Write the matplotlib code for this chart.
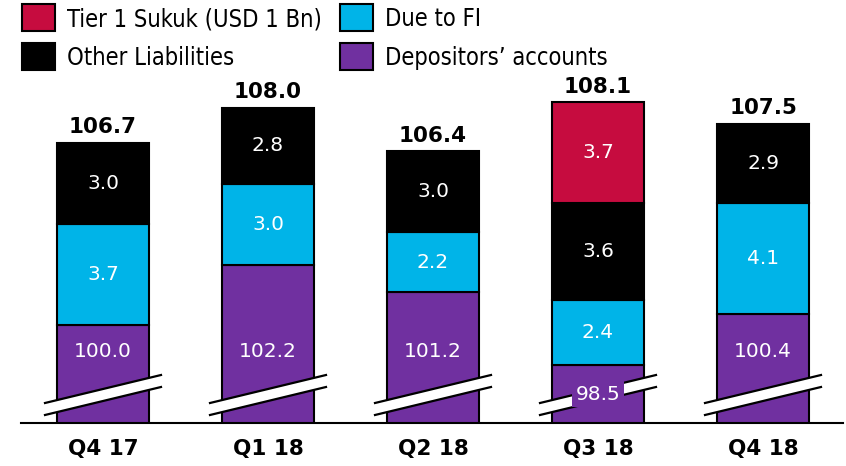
import matplotlib
matplotlib.use('Agg')
import matplotlib.pyplot as plt
from matplotlib.patches import Polygon, Rectangle
from matplotlib.lines import Line2D

# ---------------- data ----------------
categories = ['Q4 17', 'Q1 18', 'Q2 18', 'Q3 18', 'Q4 18']
depositors = [100.0, 102.2, 101.2, 98.5, 100.4]
due_to_fi = [3.7, 3.0, 2.2, 2.4, 4.1]
other_liab = [3.0, 2.8, 3.0, 3.6, 2.9]
tier1 = [0.0, 0.0, 0.0, 3.7, 0.0]
totals = [106.7, 108.0, 106.4, 108.1, 107.5]
legend_labels = ['Tier 1 Sukuk (USD 1 Bn)', 'Due to FI',
                 'Other Liabilities', 'Depositors’ accounts']

# ---------------- style ----------------
C_RED = '#C60C3F'
C_CYAN = '#00B4E8'
C_BLACK = '#000000'
C_PURPLE = '#7030A0'
plt.rcParams['font.family'] = ['DejaVu Sans']

W, H = 846, 466
fig = plt.figure(figsize=(W / 100, H / 100), dpi=100)
base_px = 423
ax = fig.add_axes([0, (H - base_px) / H, 1, base_px / H])
ax.set_axis_off()

px_per_unit = 27.14
y0 = 96.38
ax.set_ylim(y0, y0 + base_px / px_per_unit)
spacing_px = 165
first_c = 103
ax.set_xlim(-first_c / spacing_px, (W - first_c) / spacing_px)
bw = 92 / spacing_px
x = list(range(len(categories)))

ekw = dict(edgecolor='black', linewidth=1.5, width=bw, zorder=2)
ax.bar(x, depositors, color=C_PURPLE, **ekw)
bottoms2 = depositors
ax.bar(x, due_to_fi, bottom=bottoms2, color=C_CYAN, **ekw)
bottoms3 = [a + b for a, b in zip(depositors, due_to_fi)]
ax.bar(x, other_liab, bottom=bottoms3, color=C_BLACK, **ekw)
bottoms4 = [a + b for a, b in zip(bottoms3, other_liab)]
for i, v in enumerate(tier1):
    if v > 0:
        ax.bar(x[i], v, bottom=bottoms4[i], color=C_RED, **ekw)


def px2x(p):
    return p / spacing_px


def px2y(p):
    return p / px_per_unit


# axis-break marks (white slanted band with black outlines)
for i in x:
    xl, xr = i - px2x(58), i + px2x(58)
    bl, br = y0 + px2y(8), y0 + px2y(36)
    tl, tr = y0 + px2y(20), y0 + px2y(48)
    ax.add_patch(Polygon([(xl, bl), (xr, br), (xr, tr), (xl, tl)], closed=True,
                         facecolor='white', edgecolor='none', zorder=3, clip_on=False))
    ax.add_line(Line2D([xl, xr], [bl, br], color='black', lw=1.6, zorder=4))
    ax.add_line(Line2D([xl, xr], [tl, tr], color='black', lw=1.6, zorder=4))

# baseline
ax.plot([px2x(21 - first_c), px2x(843 - first_c)], [y0 + 0.01, y0 + 0.01],
        color='black', lw=1.5, zorder=5, clip_on=False)

lab_kw = dict(ha='center', va='center', color='white', fontsize=14.5, zorder=6)
dep_label_level = y0 + px2y(71)
for i in x:
    if depositors[i] > dep_label_level + 0.6:
        ax.text(i, dep_label_level, f'{depositors[i]:.1f}', **lab_kw)
    else:
        ax.text(i, (depositors[i] + y0) / 2, f'{depositors[i]:.1f}',
                bbox=dict(facecolor=C_PURPLE, edgecolor='none', pad=2.5), **lab_kw)
    ax.text(i, bottoms2[i] + due_to_fi[i] / 2, f'{due_to_fi[i]:.1f}', **lab_kw)
    ax.text(i, bottoms3[i] + other_liab[i] / 2, f'{other_liab[i]:.1f}', **lab_kw)
    if tier1[i] > 0:
        ax.text(i, bottoms4[i] + tier1[i] / 2, f'{tier1[i]:.1f}', **lab_kw)
    top = bottoms4[i] + tier1[i]
    ax.annotate(f'{totals[i]:.1f}', (i, top), xytext=(0, 4), textcoords='offset points',
                ha='center', va='bottom', fontsize=15.5, fontweight='bold', color='black')
    ax.text(i, y0 - px2y(26), categories[i], ha='center', va='center',
            fontsize=15.5, fontweight='bold', color='black', clip_on=False)

# legend (manual)
leg_colors = [C_RED, C_CYAN, C_BLACK, C_PURPLE]
sq_x = [22, 340, 22, 340]
sq_y = [4, 4, 43, 43]
for lbl, col, sx, sy in zip(legend_labels, leg_colors, sq_x, sq_y):
    fig.patches.append(Rectangle((sx / W, 1 - (sy + 27) / H), 33 / W, 27 / H,
                                 transform=fig.transFigure, facecolor=col,
                                 edgecolor='black', linewidth=1.5))
    fig.text((sx + 45) / W, 1 - (sy + 15) / H, lbl, ha='left', va='center',
             fontsize=17, fontstretch='condensed', color='black')

fig.savefig('out.png', dpi=100)
